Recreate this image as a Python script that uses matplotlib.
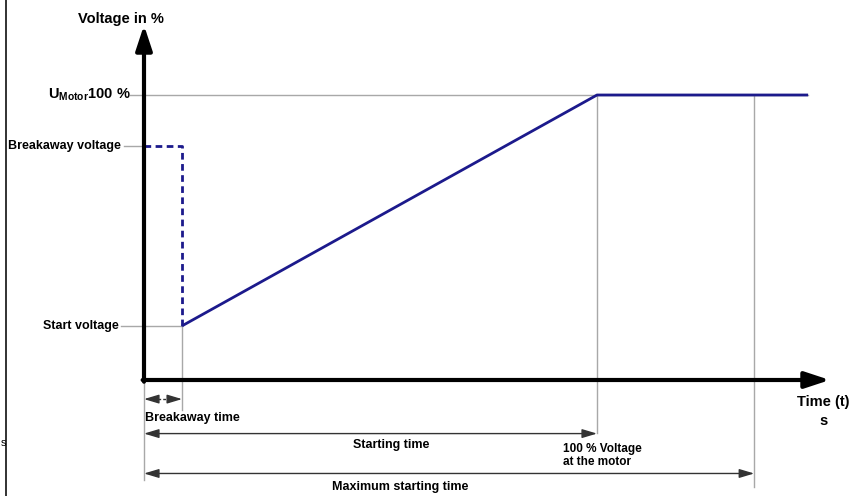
import matplotlib.pyplot as plt

plt.rcParams['font.family'] = ['Liberation Sans', 'DejaVu Sans']
plt.rcParams['font.weight'] = 'bold'
plt.rcParams['mathtext.fontset'] = 'custom'
plt.rcParams['mathtext.bf'] = 'Liberation Sans:bold'
plt.rcParams['mathtext.rm'] = 'Liberation Sans:bold'

# times in s, voltage in %
BREAKAWAY_TIME = 0.84
STARTING_TIME = 10.0
MAX_STARTING_TIME = 13.47
END_TIME = 14.66
START_VOLTAGE = 19
BREAKAWAY_VOLTAGE = 82
FULL_VOLTAGE = 100

ramp_t = [BREAKAWAY_TIME, STARTING_TIME, END_TIME]
ramp_u = [START_VOLTAGE, FULL_VOLTAGE, FULL_VOLTAGE]
kick_t = [0, BREAKAWAY_TIME, BREAKAWAY_TIME]
kick_u = [BREAKAWAY_VOLTAGE, BREAKAWAY_VOLTAGE, START_VOLTAGE]

BLUE = '#1c1a8c'
GRAY = '#a8a8a8'
DARK = '#333333'

fig = plt.figure(figsize=(8.61, 4.96), dpi=100)
ax = fig.add_axes([0, 0, 1, 1])
ax.set_xlim(-144 / 45.3, 717 / 45.3)
ax.set_ylim(-116 / 2.85, 380 / 2.85)
ax.axis('off')

# gray guide lines
ax.plot([-0.3, END_TIME], [FULL_VOLTAGE] * 2, color=GRAY, lw=1)
ax.plot([-0.45, 0], [BREAKAWAY_VOLTAGE] * 2, color=GRAY, lw=1)
ax.plot([-0.5, BREAKAWAY_TIME], [START_VOLTAGE] * 2, color=GRAY, lw=1)
ax.plot([BREAKAWAY_TIME] * 2, [START_VOLTAGE, -10.5], color=GRAY, lw=1)
ax.plot([0, 0], [0, -35], color=GRAY, lw=1)
ax.plot([STARTING_TIME] * 2, [FULL_VOLTAGE, -18.6], color=GRAY, lw=1)
ax.plot([MAX_STARTING_TIME] * 2, [FULL_VOLTAGE, -37.5], color=GRAY, lw=1)

# voltage curve
ax.plot(kick_t, kick_u, color=BLUE, lw=2, ls=(0, (2.4, 1.6)))
ax.plot(ramp_t, ramp_u, color=BLUE, lw=2, solid_capstyle='butt')

# axes with arrows
ax_style = '-|>,head_length=1.0,head_width=0.33'
ax.annotate('', xy=(0, 124.5), xytext=(0, -0.6),
            arrowprops=dict(arrowstyle=ax_style, lw=3, color='black',
                            mutation_scale=15, shrinkA=0, shrinkB=0))
ax.annotate('', xy=(15.14, 0), xytext=(-0.03, 0),
            arrowprops=dict(arrowstyle=ax_style, lw=3, color='black',
                            mutation_scale=15, shrinkA=0, shrinkB=0))

# dimension arrows
dim_style = '<|-|>,head_length=0.9,head_width=0.27'
one_style = '-|>,head_length=0.9,head_width=0.27'
ax.plot([0.2, BREAKAWAY_TIME - 0.2], [-6.7, -6.7], color=DARK, lw=1,
        ls=(0, (2, 1.5)))
for tip, tail in [(0, 0.3), (BREAKAWAY_TIME, BREAKAWAY_TIME - 0.3)]:
    ax.annotate('', xy=(tip, -6.7), xytext=(tail, -6.7),
                arrowprops=dict(arrowstyle=one_style, lw=1, color=DARK,
                                mutation_scale=10, shrinkA=0, shrinkB=0))
ax.annotate('', xy=(STARTING_TIME, -18.8), xytext=(0, -18.8),
            arrowprops=dict(arrowstyle=dim_style, lw=1, color=DARK,
                            mutation_scale=10, shrinkA=0, shrinkB=0))
ax.annotate('', xy=(MAX_STARTING_TIME, -32.8), xytext=(0, -32.8),
            arrowprops=dict(arrowstyle=dim_style, lw=1, color=DARK,
                            mutation_scale=10, shrinkA=0, shrinkB=0))

# labels
ax.text(-0.51, 126.7, 'Voltage in %', ha='center', va='center', fontsize=10.5)
ax.text(-0.3, FULL_VOLTAGE, r'$\mathbf{U}_{\mathbf{Motor}}$100 %',
        ha='right', va='center', fontsize=10.5)
ax.text(-0.5, BREAKAWAY_VOLTAGE, 'Breakaway voltage', ha='right',
        va='center', fontsize=9)
ax.text(-0.55, START_VOLTAGE, 'Start voltage', ha='right', va='center',
        fontsize=9)
ax.text(0.02, -13.5, 'Breakaway time', ha='left', va='center', fontsize=9)
ax.text(5.45, -22.9, 'Starting time', ha='center', va='center', fontsize=9)
ax.text(9.25, -26.4, '100 % Voltage\nat the motor', ha='left', va='center',
        fontsize=8.5, linespacing=1.15)
ax.text(5.65, -37.4, 'Maximum starting time', ha='center', va='center',
        fontsize=9)
ax.text(15.0, -11.0, 'Time (t)\ns', ha='center', va='center', fontsize=10.5,
        linespacing=1.45)

# frame edge and small letter on the left
ax.plot([5.5 / 861] * 2, [0, 1], color='#222222', lw=1.3,
        transform=ax.transAxes)
fig.text(0.3 / 861, 1 - 443 / 496, 's', ha='left', va='center', fontsize=8,
         fontweight='normal')

fig.savefig('out.png', dpi=100)
